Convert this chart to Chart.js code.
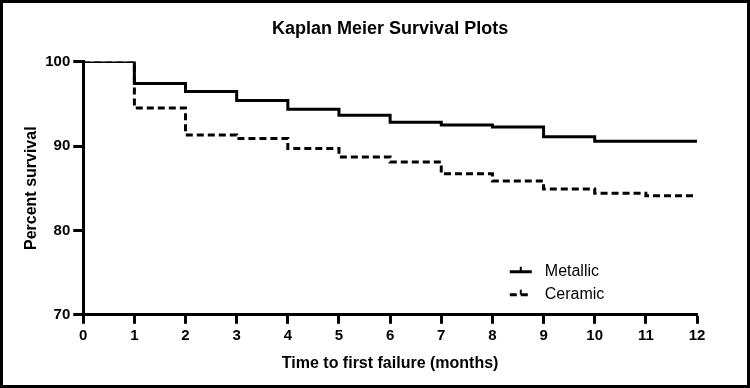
<!DOCTYPE html>
<html>
<head>
<meta charset="utf-8">
<script src="https://cdn.jsdelivr.net/npm/chart.js@4/dist/chart.umd.min.js"></script>
<style>
  html, body { margin: 0; padding: 0; background: #fff; }
  #wrap { width: 750px; height: 388px; position: relative; }
</style>
</head>
<body>
<div id="wrap"><canvas id="myChart" width="750" height="388"></canvas></div>
<script>
// DATA
const months = [0, 1, 2, 3, 4, 5, 6, 7, 8, 9, 10, 11, 12];
const metallic = [100, 97.4, 96.45, 95.4, 94.35, 93.65, 92.8, 92.5, 92.25, 91.1, 90.55, 90.55, 90.4];
const ceramic = [100, 94.5, 91.3, 90.9, 89.7, 88.7, 88.1, 86.7, 85.85, 84.9, 84.4, 84.1, 84.1];
const yTicks = [70, 80, 90, 100];

const font = "'Liberation Sans', Arial, sans-serif";

function toPoints(vals) {
    return months.map((m, i) => ({ x: m, y: vals[i] }));
}

// border round the picture
const frame = {
    id: "frame",
    afterDraw(chart) {
        const ctx = chart.ctx;
        ctx.save();
        ctx.strokeStyle = "#000";
        ctx.lineWidth = 3;
        ctx.strokeRect(1.5, 1.5, chart.width - 3, chart.height - 3);
        ctx.restore();
    }
};

// legend inside the plot, lower right
const insideLegend = {
    id: "insideLegend",
    afterDraw(chart) {
        const ctx = chart.ctx;
        const area = chart.chartArea;
        const x0 = area.left + 0.695 * (area.right - area.left);
        let y = area.top + 0.83 * (area.bottom - area.top);
        ctx.save();
        chart.data.datasets.forEach(ds => {
            ctx.strokeStyle = "#000";
            ctx.lineWidth = 3;
            ctx.setLineDash(ds.borderDash || []);
            ctx.beginPath();
            ctx.moveTo(x0, y);
            ctx.lineTo(x0 + 22, y);
            ctx.stroke();
            ctx.setLineDash([]);
            ctx.lineWidth = 2;
            ctx.beginPath();
            ctx.moveTo(x0 + 11, y);
            ctx.lineTo(x0 + 11, y - 5);
            ctx.stroke();
            ctx.fillStyle = "#000";
            ctx.font = "16px " + font;
            ctx.textBaseline = "middle";
            ctx.fillText(ds.label, x0 + 35, y);
            y += 23;
        });
        ctx.restore();
    }
};

const config = {
    type: "line",
    data: {
        datasets: [
            {
                label: "Metallic",
                data: toPoints(metallic),
                borderColor: "#000",
                borderWidth: 3,
                stepped: true,
                pointRadius: 0,
                fill: false
            },
            {
                label: "Ceramic",
                data: toPoints(ceramic),
                borderColor: "#000",
                borderWidth: 3,
                borderDash: [7, 4],
                stepped: true,
                pointRadius: 0,
                fill: false
            }
        ]
    },
    options: {
        responsive: false,
        animation: false,
        layout: { padding: { top: 10, right: 53, bottom: 15, left: 22 } },
        plugins: {
            legend: { display: false },
            tooltip: { enabled: false },
            title: {
                display: true,
                text: "Kaplan Meier Survival Plots",
                fullSize: false,
                color: "#000",
                font: { family: font, size: 18, weight: "bold" },
                padding: { top: 8, bottom: 22 }
            }
        },
        scales: {
            x: {
                type: "linear",
                min: 0,
                max: 12,
                ticks: {
                    stepSize: 1,
                    color: "#000",
                    padding: 3,
                    font: { family: font, size: 15, weight: "bold" }
                },
                grid: {
                    drawOnChartArea: false,
                    drawTicks: true,
                    tickLength: 9,
                    tickWidth: 3,
                    tickColor: "#000"
                },
                border: { color: "#000", width: 3 },
                title: {
                    display: true,
                    text: "Time to first failure (months)",
                    color: "#000",
                    font: { family: font, size: 16, weight: "bold" },
                    padding: { top: 6, bottom: 0 }
                }
            },
            y: {
                min: 70,
                max: 100,
                afterBuildTicks(scale) {
                    scale.ticks = yTicks.map(v => ({ value: v }));
                },
                ticks: {
                    color: "#000",
                    padding: 3,
                    font: { family: font, size: 15, weight: "bold" }
                },
                grid: {
                    drawOnChartArea: false,
                    drawTicks: true,
                    tickLength: 10,
                    tickWidth: 3,
                    tickColor: "#000"
                },
                border: { color: "#000", width: 3 },
                title: {
                    display: true,
                    text: "Percent survival",
                    color: "#000",
                    font: { family: font, size: 16, weight: "bold" },
                    padding: { top: 0, bottom: 1 }
                }
            }
        }
    },
    plugins: [frame, insideLegend]
};

function drawChart() {
    const ctx = document.getElementById("myChart");
    new Chart(ctx, config);
}

drawChart();
</script>
</body>
</html>
